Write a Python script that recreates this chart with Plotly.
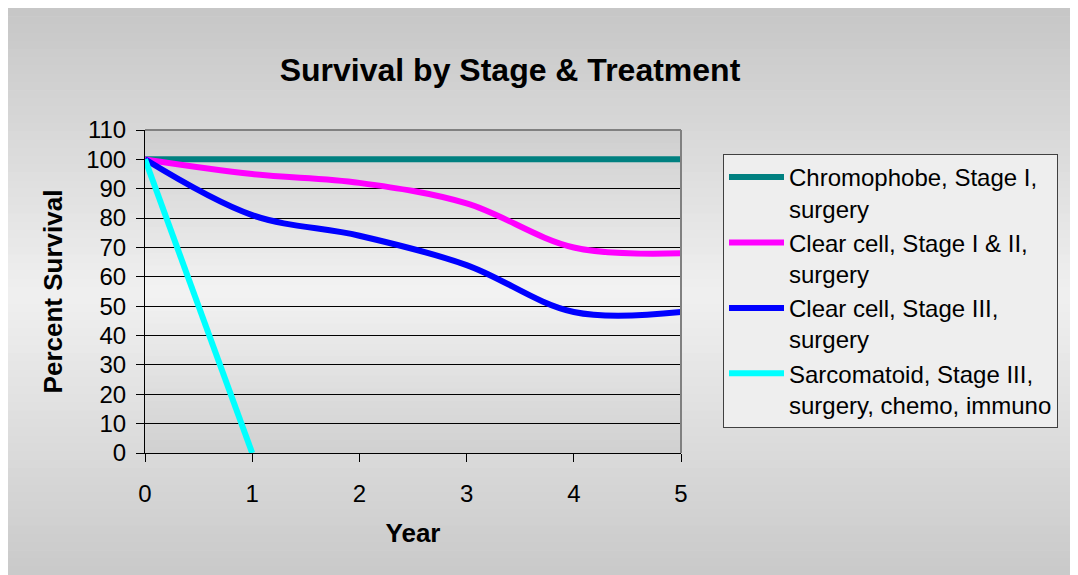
import plotly.graph_objects as go

years = [0, 1, 2, 3, 4, 5]
chromophobe = [100, 100, 100, 100, 100, 100]
clear_12 = [100, 95, 92, 85, 70, 68]
clear_3 = [100, 81, 74, 64, 48, 48]
sarc_years = [0, 1]
sarcomatoid = [100, 0]

names = [
    "Chromophobe, Stage I,<br>surgery",
    "Clear cell, Stage I & II,<br>surgery",
    "Clear cell, Stage III,<br>surgery",
    "Sarcomatoid, Stage III,<br>surgery, chemo, immuno",
]
colors = ["#008080", "#ff00ff", "#0000ff", "#00ffff"]

W, H = 1078, 575
OFF = 8  # page body margin
L, R, T, B = 145 - OFF, 681 - OFF, 130 - OFF, 453 - OFF
pw, ph = R - L, B - T

def px2x(p):
    return (p - L) / pw

def px2y(p):
    return (B - p) / ph

def lerp_color(c1, c2, t):
    return "rgb(%d,%d,%d)" % tuple(round(a + (b - a) * t) for a, b in zip(c1, c2))

shapes = []

def gradient(x0, x1, y0, y1, ctop, cmid, cbot, n=60, mid=0.5):
    h = (y1 - y0) / n
    for i in range(n):
        f = (i + 0.5) / n
        if f < mid:
            c = lerp_color(ctop, cmid, f / mid)
        else:
            c = lerp_color(cmid, cbot, (f - mid) / (1 - mid))
        ya = y0 + i * h
        yb = y0 + (i + 1) * h + 0.6
        shapes.append(dict(type="rect", xref="paper", yref="paper",
                           x0=px2x(x0), x1=px2x(x1), y0=px2y(ya), y1=px2y(min(yb, y1)),
                           fillcolor=c, line=dict(width=0), layer="below"))

# outer gradient (whole figure)
gradient(0, W, 0, H, (198, 198, 198), (240, 240, 240), (200, 200, 200), n=70, mid=0.5)
# plot area gradient
gradient(L, R, T, B, (206, 206, 206), (243, 243, 243), (208, 208, 208), n=50, mid=0.5)

# top and right plot border (gray)
shapes.append(dict(type="line", xref="paper", yref="paper", x0=0, x1=1, y0=1, y1=1,
                   line=dict(color="#808080", width=2), layer="above"))
shapes.append(dict(type="line", xref="paper", yref="paper", x0=1, x1=1, y0=0, y1=1,
                   line=dict(color="#808080", width=2), layer="above"))

fig = go.Figure()
series = [(years, chromophobe), (years, clear_12), (years, clear_3), (sarc_years, sarcomatoid)]
for i, ((xs, ys), nm, col) in enumerate(zip(series, names, colors)):
    fig.add_trace(go.Scatter(
        x=xs, y=ys, name=nm, mode="lines",
        line=dict(color=col, width=6, shape="spline", smoothing=1.0),
        legendgroup=str(i), cliponaxis=False,
    ))

font = "Liberation Sans, Arial, sans-serif"
fig.update_layout(
    width=W, height=H,
    margin=dict(l=L, r=W - R, t=T, b=H - B, pad=0),
    paper_bgcolor="#e6e6e6",
    plot_bgcolor="rgba(0,0,0,0)",
    font=dict(family=font, size=24, color="black"),
    title=dict(text="<b>Survival by Stage & Treatment</b>", x=(510 - OFF) / W, xref="container",
               xanchor="center", y=1 - (70 - OFF) / H, yref="container", yanchor="middle",
               font=dict(size=32)),
    shapes=shapes,
    showlegend=True,
    legend=dict(x=px2x(723 - OFF), y=px2y(154 - OFF), xanchor="left", yanchor="top",
                bgcolor="#eeeeee", bordercolor="#404040", borderwidth=1,
                font=dict(size=24), valign="top", tracegroupgap=0,
                traceorder="grouped", itemwidth=55),
    xaxis=dict(range=[0, 5], tickvals=[0, 1, 2, 3, 4, 5], showgrid=False, zeroline=False,
               showline=True, linecolor="black", linewidth=1, ticks="outside",
               ticklen=8, tickcolor="black", ticklabelstandoff=11,
               title=dict(text="<b>Year</b>", font=dict(size=26), standoff=18)),
    xaxis2=dict(range=[0, 5], tickvals=[0, 1, 2, 3, 4, 5], overlaying="x", anchor="y",
                side="bottom", showgrid=False, zeroline=False, showline=False,
                ticks="inside", ticklen=9, tickcolor="black", showticklabels=False),
    yaxis=dict(range=[0, 110], tickvals=list(range(0, 111, 10)), showgrid=True,
               gridcolor="black", gridwidth=1, zeroline=False,
               showline=True, linecolor="black", linewidth=1, ticks="outside",
               ticklen=8, tickcolor="black", ticklabelstandoff=5,
               title=dict(text="<b>Percent Survival</b>", font=dict(size=26), standoff=16)),
)

fig.write_html("out.html")
